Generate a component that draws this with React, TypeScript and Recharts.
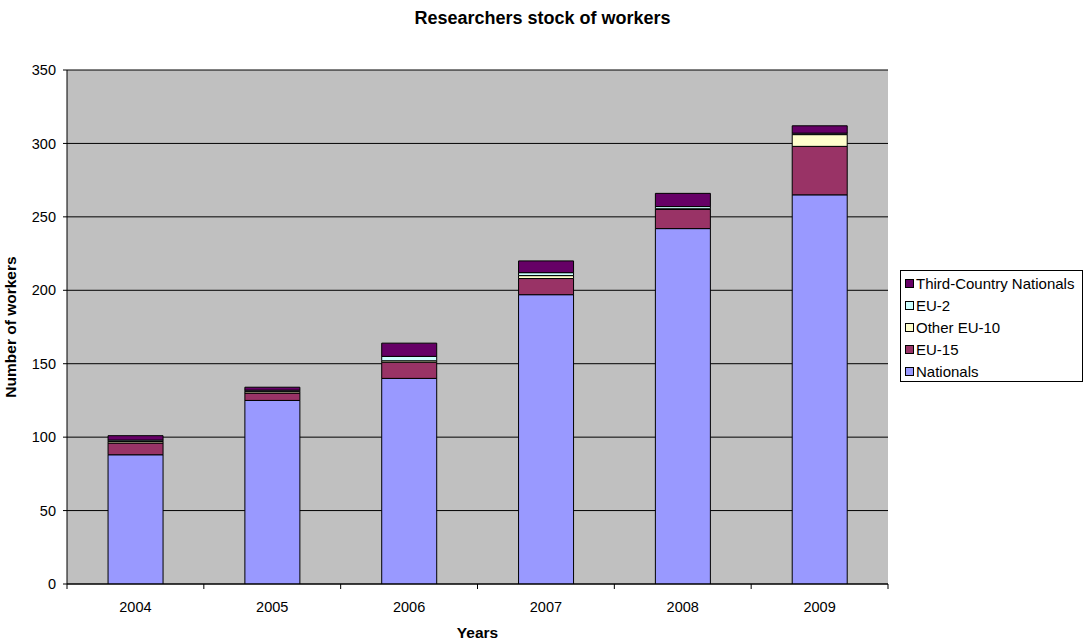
import { BarChart, Bar, XAxis, YAxis, CartesianGrid, Label } from "recharts";

const years = ["2004", "2005", "2006", "2007", "2008", "2009"];
const nationals = [88, 125, 140, 197, 242, 265];
const eu15 = [8, 5, 11, 11, 13, 33];
const otherEu10 = [1, 1, 1, 2, 0.5, 8];
const eu2 = [1, 1, 3, 2, 1.5, 1];
const thirdCountry = [3, 2, 9, 8, 9, 5];
const yTicks = [0, 50, 100, 150, 200, 250, 300, 350];

const series = [
  { key: "nationals", name: "Nationals", color: "#9999FF", values: nationals },
  { key: "eu15", name: "EU-15", color: "#993366", values: eu15 },
  { key: "otherEu10", name: "Other EU-10", color: "#FFFFCC", values: otherEu10 },
  { key: "eu2", name: "EU-2", color: "#CCFFFF", values: eu2 },
  { key: "tcn", name: "Third-Country Nationals", color: "#660066", values: thirdCountry },
];

const data = years.map((year, i) => {
  const row: Record<string, string | number> = { year };
  series.forEach((s) => (row[s.key] = s.values[i]));
  return row;
});

const W = 1085;
const H = 641;
const PLOT_LEFT = 67;
const PLOT_RIGHT = 888;
const FONT = "Arial, 'Liberation Sans', sans-serif";
const band = (PLOT_RIGHT - PLOT_LEFT) / years.length;

function YearTick(props: any) {
  const { x, y, payload } = props;
  return (
    <g>
      <line x1={x + band / 2} x2={x + band / 2} y1={y} y2={y + 5} stroke="#000" />
      {payload.index === 0 && <line x1={x - band / 2} x2={x - band / 2} y1={y} y2={y + 5} stroke="#000" />}
      <text x={x} y={y + 28} textAnchor="middle" fontSize={14.5} fontFamily={FONT} fill="#000">
        {payload.value}
      </text>
    </g>
  );
}

export default function App() {
  return (
    <div style={{ position: "relative", width: W, height: H, background: "#fff", fontFamily: FONT }}>
      <style>{"body{margin:0}"}</style>
      <div
        style={{
          position: "absolute",
          top: 8,
          left: 0,
          width: W,
          textAlign: "center",
          fontSize: 18,
          fontWeight: "bold",
        }}
      >
        Researchers stock of workers
      </div>
      <BarChart
        width={W}
        height={H}
        data={data}
        margin={{ top: 70, right: W - PLOT_RIGHT, bottom: 0, left: 2 }}
        barCategoryGap="30%"
      >
        <CartesianGrid vertical={false} stroke="#000" fill="#C0C0C0" fillOpacity={1} />
        <XAxis
          dataKey="year"
          height={57}
          tickLine={false}
          tickSize={0}
          tickMargin={0}
          tick={<YearTick />}
          axisLine={{ stroke: "#000" }}
          interval={0}
        >
          <Label value="Years" position="insideBottom" offset={3} fontSize={15.5} fontWeight="bold" fill="#000" fontFamily={FONT} />
        </XAxis>
        <YAxis
          width={65}
          domain={[0, 350]}
          ticks={yTicks}
          tickSize={4}
          tickMargin={7}
          tick={{ fontSize: 14.5, fill: "#000", fontFamily: FONT }}
          tickLine={{ stroke: "#000" }}
          axisLine={{ stroke: "#000" }}
          allowDataOverflow
        >
          <Label
            value="Number of workers"
            angle={-90}
            position="insideLeft"
            offset={8}
            style={{ textAnchor: "middle" }}
            fontSize={15.5}
            fontWeight="bold"
            fill="#000"
            fontFamily={FONT}
          />
        </YAxis>
        <YAxis
          yAxisId="frame"
          orientation="right"
          width={0}
          domain={[0, 350]}
          tick={false}
          tickLine={false}
          axisLine={{ stroke: "#808080", strokeWidth: 2 }}
        />
        {series.map((s) => (
          <Bar
            key={s.key}
            dataKey={s.key}
            name={s.name}
            stackId="a"
            fill={s.color}
            stroke="#000"
            strokeWidth={1}
            isAnimationActive={false}
          />
        ))}
      </BarChart>
      <div
        style={{
          position: "absolute",
          left: 900,
          top: 270,
          width: 183,
          height: 112,
          border: "1px solid #000",
          background: "#fff",
          boxSizing: "border-box",
          padding: "1px 0 0 4px",
          fontSize: 15,
        }}
      >
        {[...series].reverse().map((s) => (
          <div key={s.key} style={{ display: "flex", alignItems: "center", height: 22 }}>
            <span
              style={{
                display: "inline-block",
                width: 7,
                height: 7,
                background: s.color,
                border: "1px solid #000",
                marginRight: 2,
              }}
            />
            <span>{s.name}</span>
          </div>
        ))}
      </div>
    </div>
  );
}
